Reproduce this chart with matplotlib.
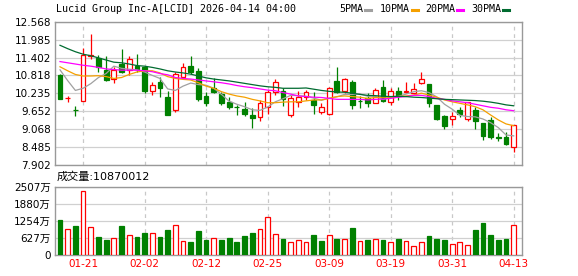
import numpy as np
import pandas as pd
import matplotlib
matplotlib.use('Agg')
import matplotlib.pyplot as plt
from matplotlib.lines import Line2D

plt.rcParams['font.family'] = ['DejaVu Sans', 'Noto Sans CJK SC']

# trading days 2026-01-15 .. 2026-04-13 (US market holidays dropped)
days = pd.bdate_range('2026-01-15', '2026-04-13')
days = days[~days.isin(pd.to_datetime(['2026-01-19', '2026-02-16', '2026-04-03']))]

open_ = [10.83, 10.07, 9.70, 9.98, 11.46, 11.37, 10.99, 10.69, 11.18, 10.99,
         11.13, 11.10, 10.32, 10.60, 10.11, 9.69, 10.78, 11.12, 10.96, 10.15,
         10.40, 10.21, 9.96, 9.79, 9.72, 9.53, 9.48, 9.80, 10.29, 10.31,
         9.53, 9.96, 10.10, 10.02, 9.64, 9.57, 10.64, 10.32, 10.59, 9.99,
         10.07, 9.93, 10.43, 9.96, 10.31, 10.29, 10.24, 10.56, 10.54, 9.86,
         9.50, 9.40, 9.70, 9.41, 9.70, 9.26, 9.37, 8.81, 8.81, 8.48]
high = [10.87, 10.14, 9.82, 11.72, 12.18, 11.48, 11.45, 11.10, 11.69, 11.45,
        11.53, 11.13, 10.62, 10.78, 10.31, 10.94, 11.23, 11.45, 11.05, 10.29,
        10.72, 10.29, 10.13, 9.86, 9.96, 9.75, 10.02, 10.34, 10.69, 10.40,
        10.18, 10.31, 10.36, 10.29, 9.91, 10.45, 11.10, 10.72, 10.67, 10.15,
        10.24, 10.40, 10.67, 10.40, 10.43, 10.60, 10.56, 10.94, 10.54, 9.86,
        9.53, 9.64, 9.78, 9.94, 9.80, 9.26, 9.48, 8.94, 8.99, 9.21]
low = [10.06, 9.96, 9.50, 9.98, 11.34, 10.94, 10.64, 10.58, 10.90, 10.83,
       10.94, 10.26, 10.19, 10.13, 9.54, 9.64, 10.72, 10.88, 9.99, 9.82,
       10.26, 9.86, 9.72, 9.53, 9.51, 9.10, 9.35, 9.57, 10.18, 9.82,
       9.48, 9.80, 10.02, 9.57, 9.57, 9.53, 10.26, 10.26, 9.73, 9.75,
       9.80, 9.91, 9.96, 9.84, 10.02, 10.26, 10.21, 10.54, 9.80, 9.37,
       9.09, 9.21, 9.48, 9.35, 9.09, 8.70, 8.75, 8.67, 8.56, 8.31]
close = [10.06, 10.09, 9.68, 11.48, 11.49, 11.10, 10.67, 11.01, 10.94, 11.34,
         11.02, 10.32, 10.50, 10.42, 9.54, 10.85, 11.10, 10.92, 10.05, 9.91,
         10.28, 9.91, 9.80, 9.78, 9.57, 9.44, 9.91, 10.29, 10.60, 10.05,
         10.08, 10.10, 10.27, 9.86, 9.78, 10.40, 10.29, 10.69, 9.86, 9.97,
         9.91, 10.34, 10.00, 10.31, 10.15, 10.31, 10.37, 10.69, 9.93, 9.40,
         9.16, 9.51, 9.57, 9.94, 9.35, 8.83, 8.82, 8.79, 8.60, 9.21]

ma5 = [11.00, 10.65, 10.33, 10.40, 10.55, 10.75, 10.88, 11.12, 11.05, 11.02,
       11.00, 10.93, 10.82, 10.72, 10.38, 10.33, 10.47, 10.57, 10.52, 10.50,
       10.40, 10.20, 9.98, 9.88, 9.80, 9.70, 9.68, 9.79, 9.96, 10.06,
       10.17, 10.16, 10.14, 10.08, 10.01, 10.08, 10.12, 10.20, 10.20, 10.22,
       10.14, 10.14, 10.03, 10.11, 10.14, 10.21, 10.29, 10.32, 10.26, 10.12,
       9.88, 9.72, 9.52, 9.48, 9.47, 9.40, 9.28, 9.12, 8.88, 8.85]
ma10 = [11.10, 10.97, 10.85, 10.80, 10.80, 10.81, 10.78, 10.72, 10.75, 10.85,
        10.93, 10.97, 10.97, 10.90, 10.78, 10.72, 10.69, 10.67, 10.58, 10.47,
        10.40, 10.29, 10.21, 10.15, 10.11, 10.04, 9.99, 9.93, 9.93, 9.95,
        9.96, 9.96, 9.99, 10.02, 10.02, 10.07, 10.13, 10.15, 10.13, 10.11,
        10.07, 10.10, 10.11, 10.11, 10.13, 10.15, 10.18, 10.24, 10.18, 10.11,
        10.02, 9.96, 9.91, 9.86, 9.80, 9.70, 9.53, 9.37, 9.24, 9.18]
ma20 = [11.27, 11.23, 11.19, 11.15, 11.12, 11.08, 11.03, 11.01, 10.99, 10.99,
        10.99, 10.97, 10.94, 10.88, 10.84, 10.75, 10.72, 10.70, 10.67, 10.64,
        10.61, 10.58, 10.54, 10.49, 10.45, 10.42, 10.38, 10.34, 10.32, 10.26,
        10.21, 10.15, 10.13, 10.11, 10.10, 10.07, 10.04, 10.04, 10.04, 10.04,
        10.02, 10.04, 10.05, 10.07, 10.11, 10.13, 10.17, 10.17, 10.13, 10.07,
        10.04, 9.99, 9.96, 9.93, 9.88, 9.83, 9.78, 9.75, 9.70, 9.67]
ma30 = [11.80, 11.69, 11.59, 11.51, 11.46, 11.39, 11.32, 11.25, 11.23, 11.19,
        11.14, 11.12, 11.08, 11.03, 10.97, 10.93, 10.90, 10.86, 10.80, 10.74,
        10.70, 10.67, 10.64, 10.60, 10.56, 10.52, 10.48, 10.45, 10.43, 10.40,
        10.40, 10.40, 10.41, 10.37, 10.33, 10.30, 10.28, 10.27, 10.24, 10.20,
        10.17, 10.16, 10.14, 10.13, 10.14, 10.13, 10.11, 10.10, 10.08, 10.06,
        10.04, 10.03, 10.02, 10.01, 10.00, 9.98, 9.95, 9.91, 9.86, 9.83]

# volume in 万 shares
volume = [1290, 942, 1066, 2356, 1017, 657, 546, 608, 1066, 719,
          657, 806, 794, 657, 918, 1091, 496, 471, 880, 546,
          608, 546, 620, 471, 694, 806, 942, 1389, 756, 583,
          459, 533, 459, 732, 508, 719, 583, 570, 992, 496,
          546, 570, 546, 459, 583, 496, 347, 459, 694, 583,
          546, 422, 459, 384, 918, 1178, 732, 546, 583, 1087.0012]

price_ticks = [7.902, 8.485, 9.068, 9.652, 10.235, 10.818, 11.402, 11.985, 12.568]
vol_ticks = [0, 627, 1254, 1880, 2507]
vol_labels = ['0', '627万', '1254万', '1880万', '2507万']
date_labels = ['01-21', '02-02', '02-12', '02-25', '03-09', '03-19', '03-31', '04-13']
ma_names = ['5PMA', '10PMA', '20PMA', '30PMA']
ma_colors = ['#a0a0a0', '#f5a000', '#ff00ff', '#006b30']

RED = '#ff0000'
GREEN = '#008000'

o = np.array(open_)
c = np.array(close)
x = np.arange(len(days))
rise = c >= o
cols = np.where(rise, RED, GREEN)
faces = np.where(rise, 'white', GREEN)

labels_all = list(days.strftime('%m-%d'))
tick_pos = [labels_all.index(d) for d in date_labels]

fig = plt.figure(figsize=(5.78, 2.76), dpi=100)
ax = fig.add_axes([55 / 578, 1 - 165 / 276, 467 / 578, 143.3 / 276])
axv = fig.add_axes([55 / 578, 1 - 255 / 276, 467 / 578, 68.3 / 276])

# candles
ax.vlines(x, low, high, colors=cols, lw=0.9, zorder=2)
body = np.maximum(np.abs(c - o), 0.012)
ax.bar(x, body, bottom=np.minimum(o, c), width=0.62, color=faces,
       edgecolor=cols, lw=0.9, zorder=3)

for m, col in zip([ma5, ma10, ma20, ma30], ma_colors):
    ax.plot(x, m, color=col, lw=0.9, zorder=4)

ax.set_ylim(price_ticks[0], price_ticks[-1])
ax.set_yticks(price_ticks)
ax.set_yticklabels(['%.3f' % t for t in price_ticks])

# volume bars, coloured by change against previous close
vup = np.diff(c, prepend=o[0]) >= 0
vcols = np.where(vup, RED, GREEN)
vfaces = np.where(vup, 'white', GREEN)
axv.bar(x, volume, width=0.62, color=vfaces, edgecolor=vcols, lw=0.9, zorder=3)
axv.set_ylim(0, vol_ticks[-1])
axv.set_yticks(vol_ticks)
axv.set_yticklabels(vol_labels)

for a in (ax, axv):
    a.set_xlim(-0.65, len(days) + 0.08)
    a.set_xticks(tick_pos)
    a.grid(axis='y', color='#d0d0d0', lw=0.9)
    a.grid(axis='x', color='#c8c8c8', lw=0.9, ls=(0, (3, 3)))
    a.set_axisbelow(True)
    a.tick_params(length=0, labelsize=7.5, pad=3)
    for s in a.spines.values():
        s.set_color('#999999')
        s.set_linewidth(1)

ax.set_xticklabels([])
axv.set_xticklabels(date_labels, color=RED)

fig.text(56 / 578, 1 - 9.5 / 276, 'Lucid Group Inc-A[LCID] 2026-04-14 04:00',
         family='DejaVu Sans Mono', fontsize=7.2, va='center', ha='left')

# moving-average legend
leg_x = [339, 380, 425, 471]
for name, col, lx in zip(ma_names, ma_colors, leg_x):
    t = fig.text(lx / 578, 1 - 9.5 / 276, name, family='DejaVu Sans Mono',
                 fontsize=7.2, va='center', ha='left')
    x0 = lx + len(name) * 6 + 2
    fig.add_artist(Line2D([x0 / 578, (x0 + 5.5) / 578], [1 - 9.5 / 276] * 2,
                          transform=fig.transFigure, color=col, lw=2.2))

fig.text(57 / 578, 1 - 176.7 / 276, '成交量:%d' % round(volume[-1] * 10000),
         fontsize=8, va='center', ha='left')

fig.savefig('out.png', dpi=100)
